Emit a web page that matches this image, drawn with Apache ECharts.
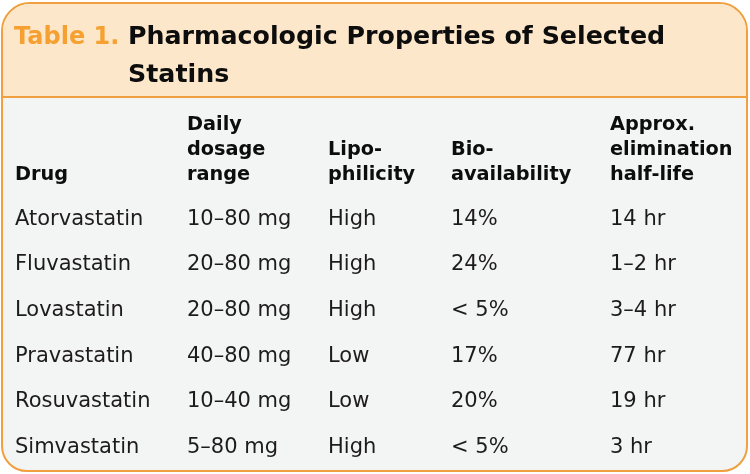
<!DOCTYPE html>
<html><head><meta charset="utf-8">
<script src="https://cdn.jsdelivr.net/npm/echarts@6/dist/echarts.min.js"></script>
<style>html,body{margin:0;padding:0;background:#fff}#c{width:750px;height:474px}</style>
</head><body><div id="c"></div>
<script>
// ---- data ----
const titleLabel = 'Table 1.';
const titleText = 'Pharmacologic Properties of Selected\nStatins';
const headers = ['Drug', 'Daily\ndosage\nrange', 'Lipo-\nphilicity', 'Bio-\navailability', 'Approx.\nelimination\nhalf-life'];
const drugs = ['Atorvastatin', 'Fluvastatin', 'Lovastatin', 'Pravastatin', 'Rosuvastatin', 'Simvastatin'];
const dosage = ['10–80 mg', '20–80 mg', '20–80 mg', '40–80 mg', '10–40 mg', '5–80 mg'];
const lipophilicity = ['High', 'High', 'High', 'Low', 'Low', 'High'];
const bioavailability = ['14%', '24%', '< 5%', '17%', '20%', '< 5%'];
const halfLife = ['14 hr', '1–2 hr', '3–4 hr', '77 hr', '19 hr', '3 hr'];

// ---- layout ----
const colX = [15, 187, 328, 451, 610];
const HEADER_ROW = 'header';
const columns = [drugs, dosage, lipophilicity, bioavailability, halfLife];
const rows = [HEADER_ROW].concat(drugs);
const orange = '#F0A03E';

const series = [];
columns.forEach((col, j) => {
  series.push({
    type: 'scatter', symbolSize: 0, silent: true,
    itemStyle: { opacity: 1 },
    data: col.map((v, i) => ({ value: [colX[j], drugs[i]], txt: v })),
    label: {
      show: true, position: 'right', distance: 0, align: 'left', verticalAlign: 'middle',
      formatter: p => p.data.txt, opacity: 1,
      fontFamily: 'DejaVu Sans', fontSize: 21, color: '#1E1B1C'
    }
  });
});
series.push({
  type: 'scatter', symbolSize: 0, silent: true,
  itemStyle: { opacity: 1 },
  data: headers.map((h, j) => ({ value: [colX[j], HEADER_ROW], txt: h })),
  label: {
    show: true, position: 'right', distance: 0, align: 'left', verticalAlign: 'bottom',
    offset: [0, 14.5], opacity: 1,
    formatter: p => p.data.txt,
    fontFamily: 'DejaVu Sans', fontWeight: 'bold', fontSize: 19.3, lineHeight: 25, color: '#0D0D0D'
  }
});

const chart = echarts.init(document.getElementById('c'), null, { renderer: 'canvas' });
chart.setOption({
  animation: false,
  title: [
    { text: titleLabel, left: 14, top: 18.5, padding: 0,
      textStyle: { fontFamily: 'DejaVu Sans', fontWeight: 'bold', fontSize: 24, lineHeight: 38, color: '#F5A030' } },
    { text: titleText, left: 128, top: 18.5, padding: 0,
      textStyle: { fontFamily: 'DejaVu Sans', fontWeight: 'bold', fontSize: 25.3, lineHeight: 38, color: '#0D0D0D' } }
  ],
  graphic: [
    { type: 'rect', z: -10, shape: { x: 2, y: 3, width: 745, height: 468, r: [28, 28, 25, 25] },
      style: { fill: '#F3F4F4', stroke: orange, lineWidth: 2 } },
    { type: 'rect', z: -9, shape: { x: 3, y: 4, width: 743, height: 93, r: [27, 27, 0, 0] },
      style: { fill: '#FDE7CB' } },
    { type: 'line', z: -8, shape: { x1: 2, y1: 97, x2: 747, y2: 97 },
      style: { stroke: orange, lineWidth: 2 } }
  ],
  grid: { left: 0, right: 0, top: 150.5, height: 320 },
  xAxis: { type: 'value', min: 0, max: 750, show: false },
  yAxis: { type: 'category', data: rows, inverse: true, show: false },
  series: series
});
</script></body></html>
